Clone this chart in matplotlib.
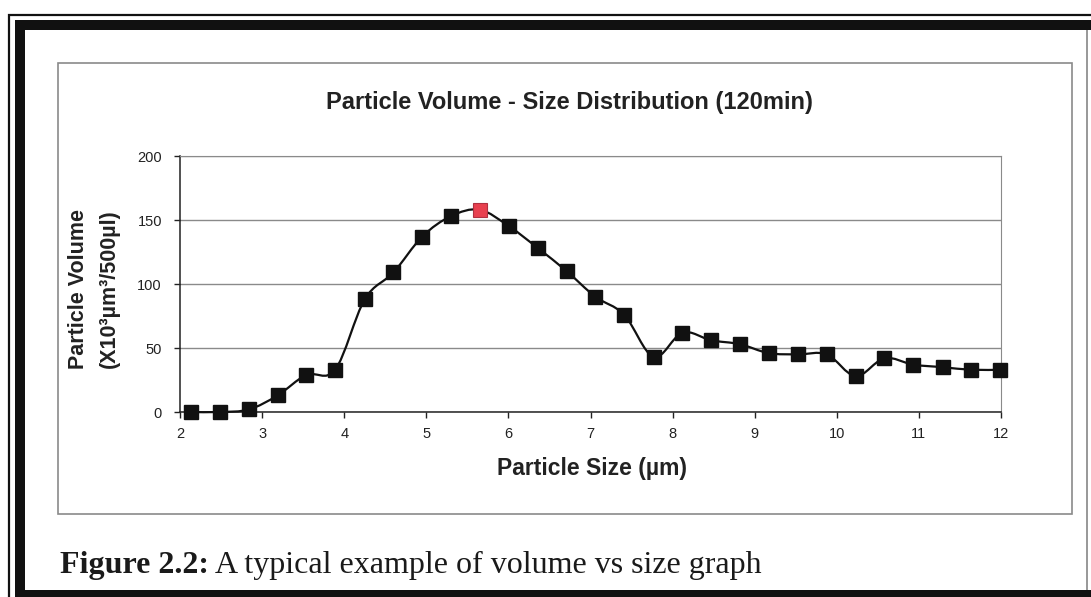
import matplotlib
matplotlib.use('Agg')
import matplotlib.pyplot as plt
from matplotlib.path import Path
from matplotlib.patches import PathPatch, Rectangle

# Particle size (um) and volume (x10^3 um^3 / 500 ul)
sizes = [2.14, 2.49, 2.84, 3.19, 3.54, 3.89, 4.25, 4.60, 4.95, 5.30,
         5.65, 6.01, 6.36, 6.71, 7.06, 7.41, 7.77, 8.12, 8.47, 8.82,
         9.17, 9.53, 9.88, 10.23, 10.58, 10.93, 11.29, 11.64, 11.99]
volumes = [0, 0, 2, 13, 29, 33, 88, 109, 137, 153,
           158, 145, 128, 110, 90, 76, 43, 62, 56, 53,
           46, 45, 45, 28, 42, 37, 35, 33, 33]
peak_index = 10

x_ticks = [2, 3, 4, 5, 6, 7, 8, 9, 10, 11, 12]
y_ticks = [0, 50, 100, 150, 200]

W, H = 1091, 597
fig = plt.figure(figsize=(W / 100, H / 100), dpi=100)
fig.patch.set_facecolor('white')

# outer document frame (pixel coords -> figure fraction)
def frame_rect(x0, y0, x1, y1, **kw):
    fig.patches.append(Rectangle((x0 / W, 1 - y1 / H), (x1 - x0) / W, (y1 - y0) / H,
                                 transform=fig.transFigure, figure=fig, **kw))

frame_rect(9, 15, 1100, 610, fill=False, edgecolor='#111111', linewidth=1.6)
frame_rect(15, 20, 1100, 30, facecolor='#111111', edgecolor='none')
frame_rect(15, 20, 25, 610, facecolor='#111111', edgecolor='none')
frame_rect(15, 590, 1100, 610, facecolor='#111111', edgecolor='none')
frame_rect(1086, 30, 1088, 590, facecolor='#9a9a9a', edgecolor='none')

# chart area box
frame_rect(58, 63, 1072, 514, fill=False, edgecolor='#8a8a8a', linewidth=1.2)

ax = fig.add_axes([180 / W, 1 - 412 / H, (1001 - 180) / W, (412 - 156) / H])
ax.set_facecolor('white')
ax.set_xlim(2, 12)
ax.set_ylim(0, 200)
ax.set_xticks(x_ticks)
ax.set_yticks(y_ticks)
ax.tick_params(axis='both', labelsize=10.5, colors='#222222', length=4, width=1)
ax.tick_params(axis='x', pad=7)
ax.tick_params(axis='y', pad=9)
for lab in ax.get_xticklabels() + ax.get_yticklabels():
    lab.set_family('Liberation Sans')
ax.yaxis.grid(True, color='#8a8a8a', linewidth=1)
ax.set_axisbelow(True)
for side in ['top', 'right']:
    ax.spines[side].set_color('#8a8a8a')
for side in ['left', 'bottom']:
    ax.spines[side].set_color('#222222')
    ax.spines[side].set_linewidth(1.1)

# smoothed line (Catmull-Rom as cubic Bezier, like Excel's smoothed line)
pts = list(zip(sizes, volumes))
verts = [pts[0]]
codes = [Path.MOVETO]
for i in range(len(pts) - 1):
    p0 = pts[max(i - 1, 0)]
    p1 = pts[i]
    p2 = pts[i + 1]
    p3 = pts[min(i + 2, len(pts) - 1)]
    c1 = (p1[0] + (p2[0] - p0[0]) / 6, p1[1] + (p2[1] - p0[1]) / 6)
    c2 = (p2[0] - (p3[0] - p1[0]) / 6, p2[1] - (p3[1] - p1[1]) / 6)
    verts += [c1, c2, p2]
    codes += [Path.CURVE4, Path.CURVE4, Path.CURVE4]
ax.add_patch(PathPatch(Path(verts, codes), facecolor='none', edgecolor='#111111',
                       linewidth=1.6, zorder=3, clip_on=False))

other_x = [s for i, s in enumerate(sizes) if i != peak_index]
other_y = [v for i, v in enumerate(volumes) if i != peak_index]
ax.plot(other_x, other_y, linestyle='none', marker='s', markersize=9.5,
        markerfacecolor='#111111', markeredgecolor='#111111', zorder=4, clip_on=False)
ax.plot([sizes[peak_index]], [volumes[peak_index]], linestyle='none', marker='s',
        markersize=10.5, markerfacecolor='#e8404f', markeredgecolor='#b03040',
        markeredgewidth=0.8, zorder=5, clip_on=False)

# titles and labels
fig.text(569 / W, 1 - 102 / H, 'Particle Volume - Size Distribution (120min)',
         ha='center', va='center', fontsize=17, fontweight='bold',
         family='Liberation Sans', color='#222222')
fig.text(592 / W, 1 - 469 / H, 'Particle Size (µm)', ha='center', va='center',
         fontsize=16.5, fontweight='bold', family='Liberation Sans', color='#222222')
fig.text(79 / W, 1 - 289 / H, 'Particle Volume', ha='center', va='center', rotation=90,
         fontsize=15.5, fontweight='bold', family='Liberation Sans', color='#222222')
fig.text(109 / W, 1 - 289 / H, '(X10³µm³/500µl)', ha='center', va='center', rotation=90,
         fontsize=15.5, fontweight='bold', family='Liberation Sans', color='#222222')

# caption below the chart box
cap1 = fig.text(60 / W, 1 - 573 / H, 'Figure 2.2:', ha='left', va='baseline',
                fontsize=23, fontweight='bold', family='Liberation Serif', color='#1a1a1a')
fig.canvas.draw()
bb = cap1.get_window_extent()
fig.text(bb.x1 / W + 6 / W, 1 - 573 / H, 'A typical example of volume vs size graph',
         ha='left', va='baseline', fontsize=23, family='Liberation Serif', color='#1a1a1a')

plt.savefig('out.png', dpi=100)
plt.close()
